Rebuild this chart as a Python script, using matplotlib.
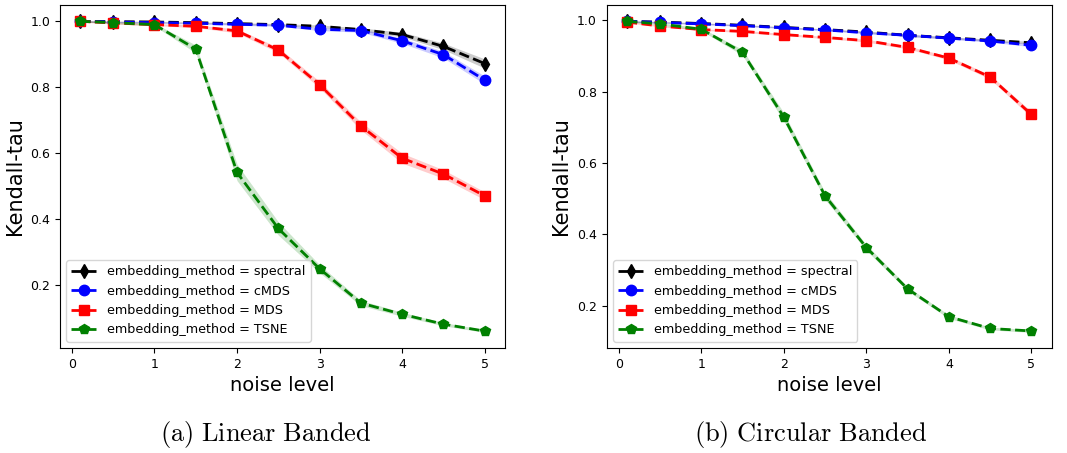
import numpy as np
import matplotlib
matplotlib.use('Agg')
import matplotlib.pyplot as plt

plt.rcParams['mathtext.fontset'] = 'cm'

noise = [0.1, 0.5, 1.0, 1.5, 2.0, 2.5, 3.0, 3.5, 4.0, 4.5, 5.0]
methods = ['spectral', 'cMDS', 'MDS', 'TSNE']

# (a) linear banded
lin_spectral = [1.000, 0.999, 0.998, 0.996, 0.993, 0.990, 0.985, 0.975, 0.960, 0.924, 0.872]
lin_cmds     = [1.000, 0.998, 0.996, 0.994, 0.991, 0.988, 0.976, 0.972, 0.941, 0.899, 0.822]
lin_mds      = [1.000, 0.995, 0.990, 0.985, 0.971, 0.913, 0.808, 0.683, 0.585, 0.537, 0.471]
lin_tsne     = [1.000, 0.996, 0.990, 0.916, 0.542, 0.372, 0.250, 0.146, 0.112, 0.082, 0.061]

# half width of the confidence bands
lin_spectral_ci = [0.002, 0.002, 0.002, 0.002, 0.003, 0.003, 0.004, 0.005, 0.007, 0.010, 0.014]
lin_cmds_ci     = [0.002, 0.002, 0.002, 0.002, 0.003, 0.003, 0.004, 0.005, 0.008, 0.010, 0.012]
lin_mds_ci      = [0.002, 0.003, 0.003, 0.004, 0.006, 0.008, 0.010, 0.012, 0.015, 0.013, 0.012]
lin_tsne_ci     = [0.002, 0.003, 0.004, 0.012, 0.025, 0.020, 0.012, 0.008, 0.006, 0.005, 0.004]

# (b) circular banded
circ_spectral = [0.997, 0.995, 0.991, 0.986, 0.980, 0.974, 0.967, 0.958, 0.951, 0.944, 0.937]
circ_cmds     = [0.997, 0.994, 0.990, 0.985, 0.979, 0.973, 0.965, 0.958, 0.950, 0.942, 0.930]
circ_mds      = [0.995, 0.984, 0.974, 0.969, 0.960, 0.952, 0.943, 0.924, 0.894, 0.841, 0.736]
circ_tsne     = [0.997, 0.990, 0.975, 0.910, 0.729, 0.508, 0.363, 0.247, 0.169, 0.136, 0.129]

circ_spectral_ci = [0.002, 0.002, 0.002, 0.002, 0.002, 0.002, 0.003, 0.003, 0.003, 0.003, 0.004]
circ_cmds_ci     = [0.002, 0.002, 0.002, 0.002, 0.002, 0.002, 0.003, 0.003, 0.003, 0.003, 0.004]
circ_mds_ci      = [0.002, 0.002, 0.002, 0.003, 0.003, 0.003, 0.004, 0.004, 0.005, 0.006, 0.008]
circ_tsne_ci     = [0.002, 0.003, 0.004, 0.008, 0.012, 0.010, 0.008, 0.006, 0.005, 0.004, 0.004]

colors = ['black', 'blue', 'red', 'green']
markers = ['d', 'o', 's', 'p']

lin = [lin_spectral, lin_cmds, lin_mds, lin_tsne]
lin_ci = [lin_spectral_ci, lin_cmds_ci, lin_mds_ci, lin_tsne_ci]
circ = [circ_spectral, circ_cmds, circ_mds, circ_tsne]
circ_ci = [circ_spectral_ci, circ_cmds_ci, circ_mds_ci, circ_tsne_ci]

fig = plt.figure(figsize=(10.67, 4.53), dpi=100)
ax1 = fig.add_axes([0.0562, 0.2318, 0.417, 0.757])
ax2 = fig.add_axes([0.5686, 0.2318, 0.417, 0.757])

x = np.array(noise)
for ax, vals, cis in [(ax1, lin, lin_ci), (ax2, circ, circ_ci)]:
    for m, v, ci, c, mk in zip(methods, vals, cis, colors, markers):
        v = np.array(v)
        ci = np.array(ci)
        ax.fill_between(x, v - ci, v + ci, color=c, alpha=0.2, linewidth=0)
        ax.plot(x, v, linestyle='--', color=c, marker=mk, markersize=7.5,
                linewidth=2, label='embedding_method = ' + m)
    ax.set_xlabel('noise level', fontsize=14)
    ax.set_ylabel('Kendall-tau', fontsize=15)
    ax.set_xticks([0, 1, 2, 3, 4, 5])
    ax.set_yticks([0.2, 0.4, 0.6, 0.8, 1.0])
    ax.tick_params(labelsize=9)
    ax.legend(loc='lower left', fontsize=9.2)

fig.text(0.249, 0.04, r'$\mathrm{(a)\ Linear\ Banded}$', ha='center', va='center', fontsize=19)
fig.text(0.760, 0.04, r'$\mathrm{(b)\ Circular\ Banded}$', ha='center', va='center', fontsize=19)

plt.savefig('out.png', dpi=100)
